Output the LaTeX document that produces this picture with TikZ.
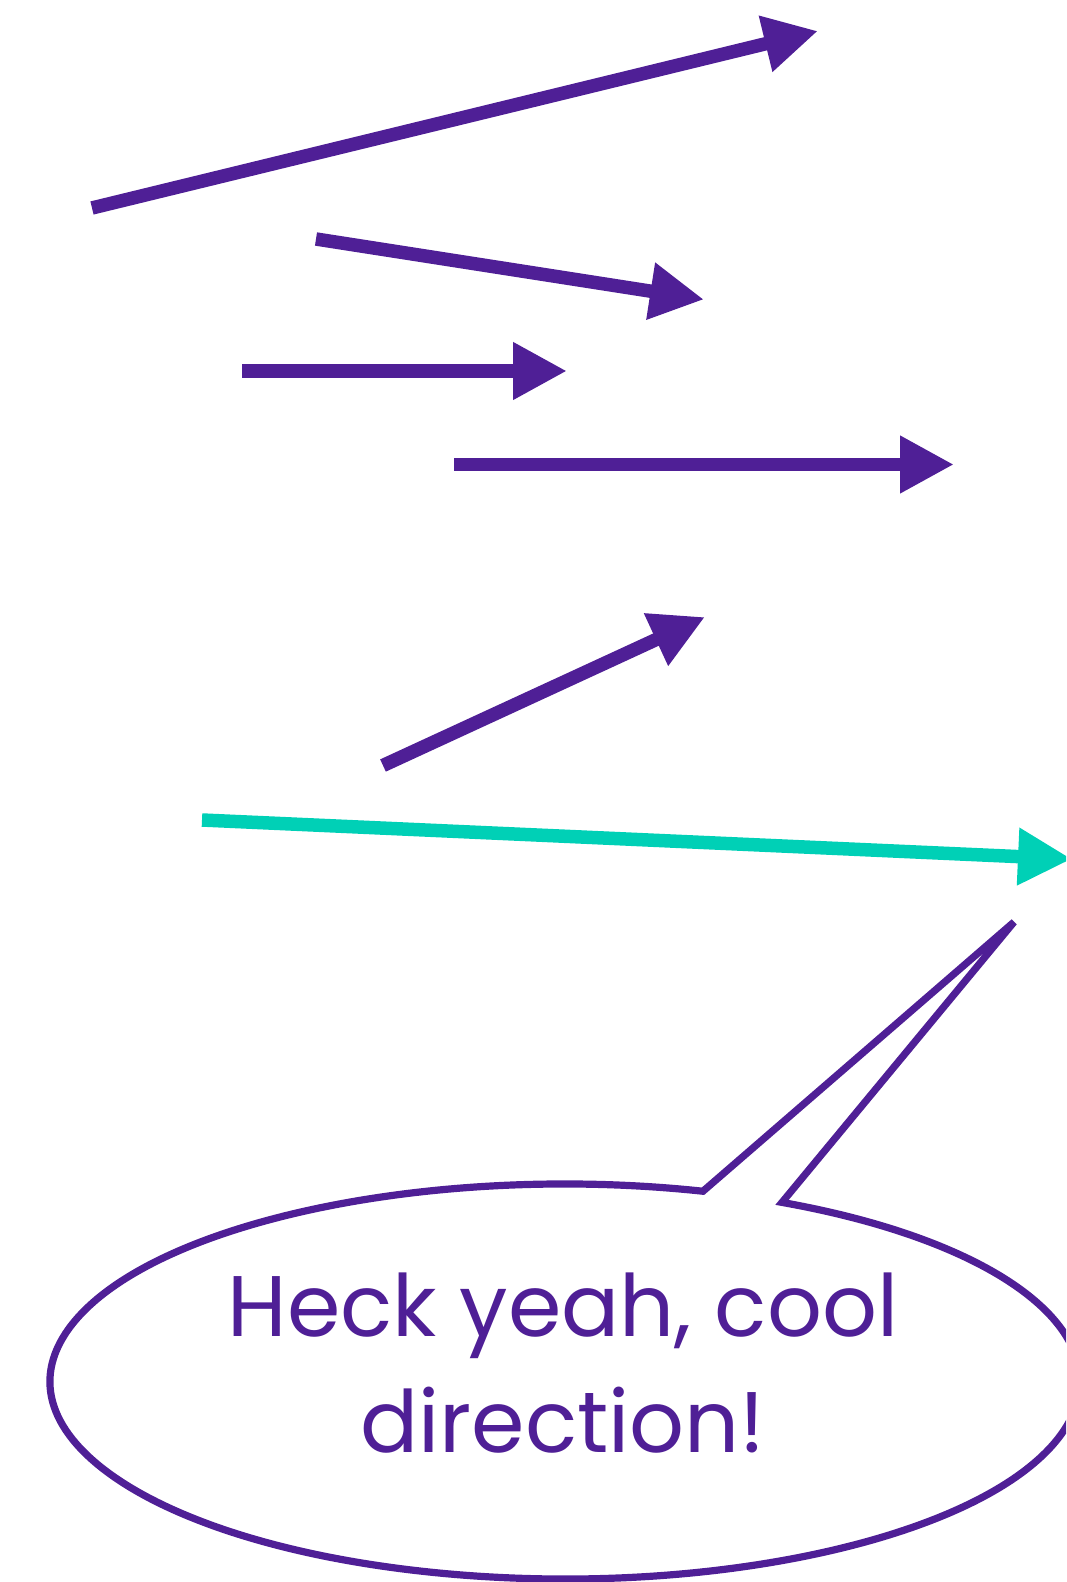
\documentclass[tikz,border=0pt]{standalone}
\usepackage{fontspec}
\setmainfont{Poppins}
\usetikzlibrary{arrows.meta}
\definecolor{grape}{RGB}{79,31,150}
\definecolor{mint}{RGB}{0,208,182}
\begin{document}
\begin{tikzpicture}[x=0.5pt,y=0.5pt,
  vec/.style={line width=6.75pt, draw=grape, -{Triangle[length=27pt,width=27pt]}},
  hot/.style={vec, draw=mint},
  bubble/.style={line width=3.6pt, draw=grape},
  say/.style={font=\fontsize{43}{58}\selectfont, text=grape, align=center}]
\clip (0,0) rectangle (1066,-1582);
% arrow end points
\coordinate (a1s) at (92,-208);   \coordinate (a1e) at (818,-31);
\coordinate (a2s) at (316,-239);  \coordinate (a2e) at (704,-299.5);
\coordinate (a3s) at (242,-371);  \coordinate (a3e) at (567,-371);
\coordinate (a4s) at (454,-464.5);\coordinate (a4e) at (954,-464.5);
\coordinate (a5s) at (383,-765.5);\coordinate (a5e) at (705,-617);
\coordinate (a6s) at (202,-820);  \coordinate (a6e) at (1072,-859);
\draw[vec] (a1s) -- (a1e);
\draw[vec] (a2s) -- (a2e);
\draw[vec] (a3s) -- (a3e);
\draw[vec] (a4s) -- (a4e);
\draw[vec] (a5s) -- (a5e);
\draw[hot] (a6s) -- (a6e);
% speech bubble
\coordinate (ctr) at (565,-1381.5);
\coordinate (tip) at (1014,-922);
\path (ctr) ++(74.46:257.5pt and 98.75pt) coordinate (ja);
\path (ctr) ++(65.08:257.5pt and 98.75pt) coordinate (jb);
\draw[bubble] (ja) arc[start angle=74.46, end angle=425.08, x radius=257.5pt, y radius=98.75pt] -- (tip) -- cycle;
\node[say, anchor=base] (msg) at (563,-1452) {Heck yeah, cool\\direction!};
\end{tikzpicture}
\end{document}
